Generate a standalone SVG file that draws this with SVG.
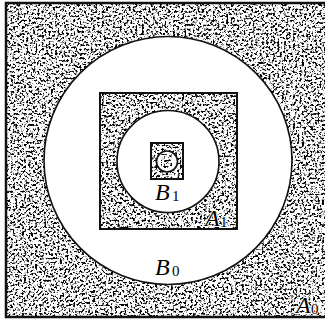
<svg xmlns="http://www.w3.org/2000/svg" width="325" height="320" viewBox="0 0 325 320">
  <style>
    .tex { filter: url(#grain); fill: #fff; }
    .edge { fill: none; stroke: #111; }
    .hole { fill: #fff; stroke: #111; stroke-width: 1.6; }
    .lbl { font-family: "Liberation Serif", "Times New Roman", serif; font-style: italic; font-size: 24px; fill: #000; }
    .sub { font-family: "Liberation Serif", "Times New Roman", serif; font-size: 15px; fill: #000; }
    .halo { paint-order: stroke; stroke: #fff; stroke-width: 2px; stroke-linejoin: round; }
  </style>
  <defs>
    <filter id="grain" x="0" y="0" width="100%" height="100%" filterUnits="objectBoundingBox" color-interpolation-filters="sRGB">
      <feTurbulence type="fractalNoise" baseFrequency="0.45" numOctaves="4" seed="11" result="n"/>
      <feColorMatrix in="n" type="matrix" values="1 0 0 0 0  1 0 0 0 0  1 0 0 0 0  0 0 0 0 1" result="g"/>
      <feComponentTransfer in="g" result="bw">
        <feFuncR type="linear" slope="7" intercept="-2.45"/>
        <feFuncG type="linear" slope="7" intercept="-2.45"/>
        <feFuncB type="linear" slope="7" intercept="-2.45"/>
      </feComponentTransfer>
      <feComposite in="bw" in2="SourceGraphic" operator="in"/>
    </filter>
  </defs>

  <g id="A0">
    <rect class="tex" x="6" y="3" width="325" height="314"/>
    <rect class="edge" x="6" y="3" width="325" height="314" stroke-width="2.5"/>
  </g>
  <g id="B0">
    <circle class="hole" cx="168" cy="160.5" r="124"/>
  </g>
  <g id="A1">
    <rect class="tex" x="100" y="93" width="137" height="136"/>
    <rect class="edge" x="100" y="93" width="137" height="136" stroke-width="2"/>
  </g>
  <g id="B1">
    <circle class="hole" cx="168" cy="161.5" r="51"/>
  </g>
  <g id="A2">
    <rect class="tex" x="151" y="143" width="32" height="36"/>
    <rect class="edge" x="151" y="143" width="32" height="36" stroke-width="2"/>
  </g>
  <g id="B2">
    <circle class="hole" cx="167" cy="161.5" r="10.5" stroke-width="1.4"/>
  </g>
  <g id="A3">
    <rect class="tex" x="161" y="154" width="11" height="14"/>
  </g>

  <g id="labels">
    <text class="lbl" x="155" y="200">B</text><text class="sub" x="172" y="201">1</text>
    <text class="lbl halo" x="205" y="226">A</text><text class="sub halo" x="220" y="227">1</text>
    <text class="lbl" x="155" y="275">B</text><text class="sub" x="172" y="276">0</text>
    <text class="lbl halo" x="296" y="313">A</text><text class="sub halo" x="311" y="314">0</text>
  </g>
</svg>
